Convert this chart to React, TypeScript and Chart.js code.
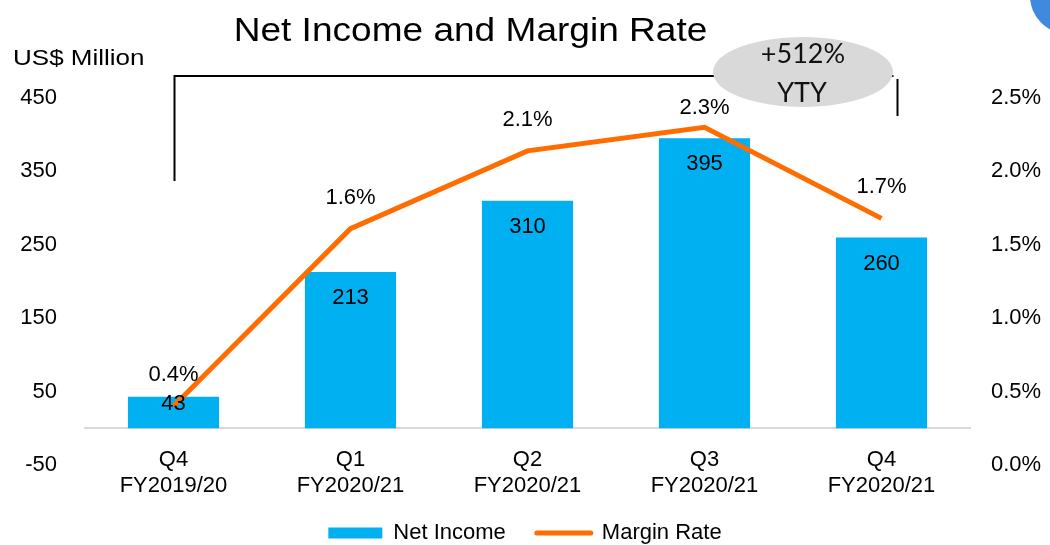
import React, { useEffect, useRef } from "react";
import { Chart, registerables } from "chart.js";

Chart.register(...registerables);

// ---- data ----
const categories: string[][] = [
  ["Q4", "FY2019/20"],
  ["Q1", "FY2020/21"],
  ["Q2", "FY2020/21"],
  ["Q3", "FY2020/21"],
  ["Q4", "FY2020/21"],
];
const netIncome: number[] = [43, 213, 310, 395, 260];
const marginRate: number[] = [0.4, 1.61, 2.14, 2.3, 1.68]; // percent
const leftTicks: number[] = [-50, 50, 150, 250, 350, 450];
const rightTicks: number[] = [0, 0.5, 1.0, 1.5, 2.0, 2.5];
const titleText = "Net Income and Margin Rate";
const unitText = "US$ Million";
const growthLines: string[] = ["+512%", "YTY"];

// ---- style ----
const FONT = '"Liberation Sans", Arial, sans-serif';
const BLUE = "#00b0f0";
const ORANGE = "#ff6c00";
const marginLabelOffsetY = [-31, -31, -31, -19, -31];

const valueLabels = {
  id: "valueLabels",
  afterDatasetsDraw(chart: any) {
    const ctx = chart.ctx;
    ctx.save();
    ctx.font = `22px ${FONT}`;
    ctx.fillStyle = "#000";
    ctx.textAlign = "center";
    ctx.textBaseline = "middle";
    const barMeta = chart.getDatasetMeta(0);
    barMeta.data.forEach((el: any, i: number) => {
      const { x, y, base } = el.getProps(["x", "y", "base"], true);
      const ly = Math.min(y + 26, base - 24);
      ctx.fillText(String(netIncome[i]), x, ly);
    });
    const lineMeta = chart.getDatasetMeta(1);
    lineMeta.data.forEach((pt: any, i: number) => {
      ctx.fillText(marginRate[i].toFixed(1) + "%", pt.x, pt.y + marginLabelOffsetY[i]);
    });
    ctx.restore();
  },
};

const decor = {
  id: "decor",
  afterDraw(chart: any) {
    const ctx = chart.ctx;
    const xs = chart.scales.x;
    ctx.save();
    // corner circle
    ctx.fillStyle = "#3f89de";
    ctx.beginPath();
    ctx.arc(1068, -4, 38, 0, Math.PI * 2);
    ctx.fill();

    // title
    ctx.fillStyle = "#000";
    ctx.textAlign = "center";
    ctx.textBaseline = "alphabetic";
    ctx.font = `32.5px ${FONT}`;
    ctx.save();
    ctx.translate(470.5, 41);
    ctx.scale(1.14, 1);
    ctx.fillText(titleText, 0, 0);
    ctx.restore();

    // unit
    ctx.textAlign = "left";
    ctx.font = `21.5px ${FONT}`;
    ctx.save();
    ctx.translate(13, 65);
    ctx.scale(1.21, 1);
    ctx.fillText(unitText, 0, 0);
    ctx.restore();

    // bracket
    const lx = xs.getPixelForValue(0) + 1;
    const rx = xs.getPixelForValue(4) + 16;
    ctx.strokeStyle = "#000";
    ctx.lineWidth = 2;
    ctx.beginPath();
    ctx.moveTo(lx, 181);
    ctx.lineTo(lx, 76);
    ctx.lineTo(rx - 4, 76);
    ctx.stroke();
    ctx.beginPath();
    ctx.moveTo(rx, 79);
    ctx.lineTo(rx, 116);
    ctx.stroke();

    // ellipse
    ctx.fillStyle = "#d9d9d9";
    ctx.beginPath();
    ctx.ellipse(803, 72, 90, 35, 0, 0, Math.PI * 2);
    ctx.fill();
    ctx.fillStyle = "#111";
    ctx.textAlign = "center";
    ctx.font = "27px Lato, sans-serif";
    ctx.fillText(growthLines[0], 803, 63);
    ctx.fillText(growthLines[1], 802, 102);
    ctx.restore();
  },
};

export default function App() {
  const ref = useRef<HTMLCanvasElement | null>(null);

  useEffect(() => {
    if (!ref.current) return;
    Chart.defaults.font.family = FONT;
    Chart.defaults.color = "#000";
    const chart = new Chart(ref.current, {
      type: "bar",
      data: {
        labels: categories,
        datasets: [
          {
            type: "bar",
            label: "Net Income",
            data: netIncome,
            backgroundColor: BLUE,
            borderWidth: 0,
            barPercentage: 0.515,
            categoryPercentage: 1,
            yAxisID: "y",
            order: 1,
          },
          {
            type: "line",
            label: "Margin Rate",
            data: marginRate,
            borderColor: ORANGE,
            backgroundColor: ORANGE,
            borderWidth: 5,
            pointRadius: 0,
            tension: 0,
            yAxisID: "y1",
            order: 0,
          },
        ],
      } as any,
      options: {
        responsive: false,
        devicePixelRatio: 1,
        animation: false,
        layout: { padding: { top: 98, bottom: -9, left: 0, right: 0 } },
        plugins: {
          tooltip: { enabled: false },
          title: { display: false },
          legend: {
            display: true,
            position: "bottom",
            title: {
              display: true,
              text: " ",
              font: { size: 1, lineHeight: 1 },
              padding: { top: 25, bottom: 0 },
            },
            labels: {
              usePointStyle: true,
              pointStyleWidth: 54,
              boxHeight: 11,
              padding: 31,
              color: "#000",
              font: { size: 22, family: FONT },
              generateLabels: (c: any) =>
                c.data.datasets.map((ds: any, i: number) => ({
                  text: ds.label,
                  fillStyle: ds.type === "bar" ? ds.backgroundColor : "transparent",
                  strokeStyle: ds.type === "bar" ? ds.backgroundColor : ds.borderColor,
                  lineWidth: ds.type === "bar" ? 0 : 5,
                  lineCap: "round",
                  pointStyle: ds.type === "bar" ? "rect" : "line",
                  hidden: false,
                  datasetIndex: i,
                  fontColor: "#000",
                })),
            },
          },
        },
        scales: {
          x: {
            type: "category",
            position: { y: 0 },
            offset: true,
            grid: { display: false, drawTicks: false },
            border: { display: true, color: "#d9d9d9", width: 2 },
            ticks: {
              autoSkip: false,
              maxRotation: 0,
              minRotation: 0,
              padding: 19.4,
              color: "#000",
              font: { size: 22, lineHeight: 1.15 },
            },
          },
          y: {
            type: "linear",
            position: "left",
            min: -50,
            max: 450,
            afterBuildTicks: (axis: any) => {
              axis.ticks = leftTicks.map((v) => ({ value: v }));
            },
            ticks: {
              autoSkip: false,
              padding: 28,
              color: "#000",
              font: { size: 22 },
            },
            grid: { display: false, drawTicks: false },
            border: { display: false },
            afterFit: (axis: any) => {
              axis.width = 85;
            },
          },
          y1: {
            type: "linear",
            position: "right",
            min: 0,
            max: 2.5,
            afterBuildTicks: (axis: any) => {
              axis.ticks = rightTicks.map((v) => ({ value: v }));
            },
            ticks: {
              autoSkip: false,
              padding: 21,
              color: "#000",
              font: { size: 22 },
              callback: (v: any) => Number(v).toFixed(1) + "%",
            },
            grid: { display: false, drawTicks: false },
            border: { display: false },
            afterFit: (axis: any) => {
              axis.width = 80;
            },
          },
        },
      } as any,
      plugins: [valueLabels, decor],
    });
    return () => chart.destroy();
  }, []);

  return (
    <div style={{ position: "fixed", left: 0, top: 0, width: 1050, height: 545, background: "#fff" }}>
      <canvas ref={ref} width={1050} height={545} style={{ display: "block" }} />
    </div>
  );
}
